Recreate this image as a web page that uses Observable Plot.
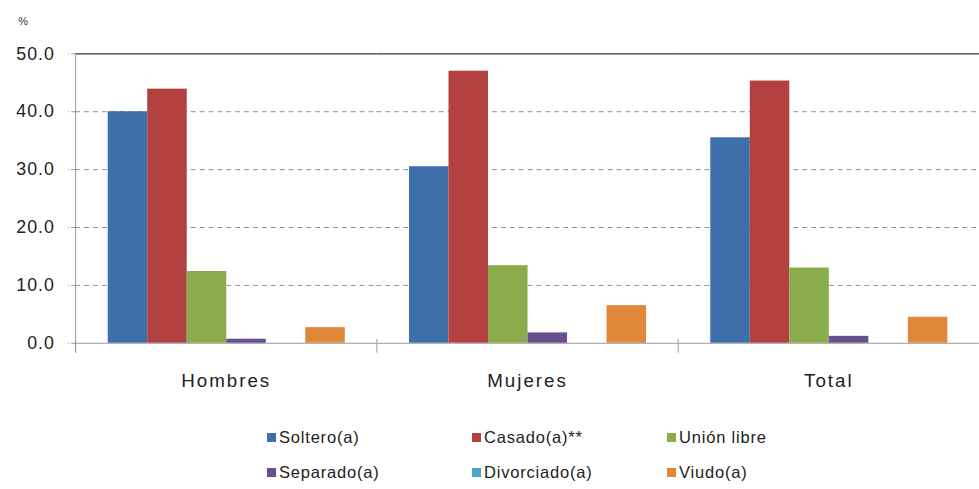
<!DOCTYPE html>
<html>
<head>
<meta charset="utf-8">
<script src="https://cdn.jsdelivr.net/npm/d3@7"></script>
<script src="https://cdn.jsdelivr.net/npm/@observablehq/plot@0.6"></script>
<style>
  html, body { margin: 0; padding: 0; background: #fff; overflow: hidden; width: 979px; height: 489px; }
  #wrap { position: relative; width: 979px; height: 489px; font-family: "Liberation Sans", Arial, sans-serif; }
  #chart { position: absolute; left: 0; top: 0; }
  #legend { position: absolute; left: 267px; top: 420px; display: grid;
            grid-template-columns: 205px 195px 160px; grid-auto-rows: 35px;
            font-size: 16.5px; color: #222; letter-spacing: 0.8px; }
  .item { display: flex; align-items: center; }
  .sw { width: 9px; height: 9px; margin-right: 3px; display: inline-block; }
  g[aria-label="fx-axis tick label"] text { letter-spacing: 2px; }
  g[aria-label="y-axis tick label"] text { letter-spacing: 1px; }
</style>
</head>
<body>
<div id="wrap">
  <div id="chart"></div>
  <div id="legend"></div>
</div>
<script>
const categories = ["Hombres", "Mujeres", "Total"];
const series = ["Soltero(a)", "Casado(a)**", "Unión libre", "Separado(a)", "Divorciado(a)", "Viudo(a)"];
const colors = ["#3f6fab", "#b3413f", "#8aac4b", "#6a4f8f", "#4aa5c2", "#e0873a"];
const hombres = [40.0, 43.9, 12.4, 0.7, 0, 2.7];
const mujeres = [30.5, 47.0, 13.4, 1.8, 0, 6.5];
const total   = [35.5, 45.3, 13.0, 1.2, 0, 4.5];
const yTicks = [0, 10, 20, 30, 40, 50];

const valuesByCategory = [hombres, mujeres, total];
const data = [];
categories.forEach((c, i) => series.forEach((s, j) => data.push({category: c, series: s, value: valuesByCategory[i][j]})));

const plot = Plot.plot({
  width: 991,
  height: 404,
  marginLeft: 76,
  marginRight: 0,
  marginTop: 54,
  marginBottom: 57,
  style: {fontFamily: "'Liberation Sans', Arial, sans-serif", color: "#222", background: "transparent"},
  fx: {domain: categories, padding: 0, label: null},
  x: {domain: series, paddingInner: 0, paddingOuter: 0.72, axis: null},
  y: {domain: [0, 50], ticks: yTicks, label: null},
  color: {domain: series, range: colors},
  marks: [
    Plot.gridY([10, 20, 30, 40], {stroke: "#8c8c8c", strokeOpacity: 1, strokeDasharray: "5,4"}),
    Plot.ruleY([50], {stroke: "#333", strokeWidth: 1.3}),
    Plot.barY(data, {fx: "category", x: "series", y: "value", fill: "series"}),
    Plot.ruleY([0], {stroke: "#999"}),
    Plot.frame({anchor: "left", stroke: "#999", insetTop: 289, insetBottom: -9}),
    Plot.frame({anchor: "left", stroke: "#999", insetBottom: -9, facetAnchor: "left"}),
    Plot.axisY({ticks: yTicks, tickFormat: d => d.toFixed(1), tickSize: 7, tickPadding: 14, stroke: "#999",
                fontSize: 18, label: null, facetAnchor: "left", strokeDasharray: "4,2"}),
    Plot.axisFx({anchor: "bottom", tickSize: 0, tickPadding: 31, fontSize: 19, label: null}),
    Plot.text(["%"], {frameAnchor: "top-left", dx: -58, dy: -37, fontSize: 11, fill: "#333", facetAnchor: "left", textAnchor: "start"})
  ]
});
document.getElementById("chart").appendChild(plot);

const legend = document.getElementById("legend");
series.forEach((s, i) => {
  const item = document.createElement("div");
  item.className = "item";
  const sw = document.createElement("span");
  sw.className = "sw";
  sw.style.background = colors[i];
  const t = document.createElement("span");
  t.textContent = s;
  item.appendChild(sw);
  item.appendChild(t);
  legend.appendChild(item);
});
</script>
</body>
</html>
